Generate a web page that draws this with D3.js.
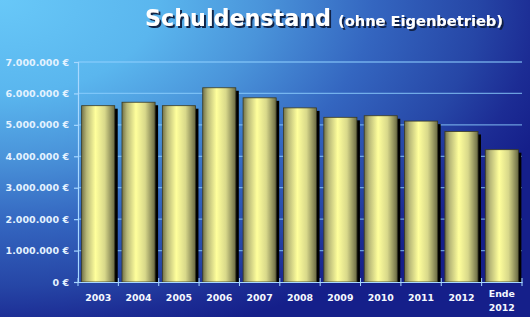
<!DOCTYPE html>
<html>
<head>
<meta charset="utf-8">
<script src="https://cdnjs.cloudflare.com/ajax/libs/d3/7.8.5/d3.min.js"></script>
<style>
  body { margin: 0; }
  svg { display: block; }
</style>
</head>
<body>
<div id="chart"></div>
<script>
// data
var years = ["2003", "2004", "2005", "2006", "2007", "2008", "2009", "2010", "2011", "2012", "Ende 2012"];
var debt = [5610000, 5720000, 5610000, 6180000, 5860000, 5540000, 5240000, 5290000, 5120000, 4790000, 4210000];
var yTicks = [0, 1000000, 2000000, 3000000, 4000000, 5000000, 6000000, 7000000];

var width = 530, height = 317;
var margin = {left: 78, right: 8, top: 62, bottom: 35};

var svg = d3.select("#chart").append("svg")
  .attr("width", width)
  .attr("height", height);

var defs = svg.append("defs");

// background: light blue in the top left corner fading to navy
var bg = defs.append("radialGradient").attr("id", "bg")
  .attr("cx", "0").attr("cy", "0").attr("fx", "0").attr("fy", "0").attr("r", "1.1");
bg.append("stop").attr("offset", "0").attr("stop-color", "#68c8f8");
bg.append("stop").attr("offset", "0.27").attr("stop-color", "#5ab6ee");
bg.append("stop").attr("offset", "0.45").attr("stop-color", "#4a94da");
bg.append("stop").attr("offset", "0.64").attr("stop-color", "#3466c0");
bg.append("stop").attr("offset", "0.82").attr("stop-color", "#2646a6");
bg.append("stop").attr("offset", "0.92").attr("stop-color", "#1c2c94");
bg.append("stop").attr("offset", "1").attr("stop-color", "#151f8a");

// cylinder shading for the bars
var bar = defs.append("linearGradient").attr("id", "bar")
  .attr("x1", "0").attr("y1", "0").attr("x2", "1").attr("y2", "0");
bar.append("stop").attr("offset", "0").attr("stop-color", "#72724a");
bar.append("stop").attr("offset", "0.15").attr("stop-color", "#b8b878");
bar.append("stop").attr("offset", "0.42").attr("stop-color", "#ffff9c");
bar.append("stop").attr("offset", "0.7").attr("stop-color", "#d8d88a");
bar.append("stop").attr("offset", "1").attr("stop-color", "#6a6a44");

// drop shadow for the title
defs.append("filter").attr("id", "shadow")
  .append("feDropShadow")
  .attr("dx", 2).attr("dy", 2).attr("stdDeviation", 0.4)
  .attr("flood-color", "#0a1a40").attr("flood-opacity", 0.95);

svg.append("rect")
  .attr("width", width).attr("height", height)
  .attr("fill", "url(#bg)");

var x = d3.scaleBand()
  .domain(years)
  .range([margin.left, width - margin.right])
  .paddingInner(0.18)
  .paddingOuter(0.09);

var y = d3.scaleLinear()
  .domain([0, 7000000])
  .range([height - margin.bottom, margin.top]);

// gridlines
svg.append("g")
  .selectAll("line")
  .data(yTicks.slice(1))
  .join("line")
  .attr("x1", margin.left)
  .attr("x2", width - margin.right)
  .attr("y1", d => y(d))
  .attr("y2", d => y(d))
  .attr("stroke", "#8fd0ff")
  .attr("stroke-opacity", 0.7)
  .attr("stroke-width", 1.3);

// shadows
svg.append("g")
  .selectAll("rect")
  .data(debt)
  .join("rect")
  .attr("x", (d, i) => x(years[i]) + 3)
  .attr("y", d => y(d) + 3)
  .attr("width", x.bandwidth())
  .attr("height", d => y(0) - y(d) - 3)
  .attr("fill", "#000");

// bars
svg.append("g")
  .selectAll("rect")
  .data(debt)
  .join("rect")
  .attr("x", (d, i) => x(years[i]))
  .attr("y", d => y(d))
  .attr("width", x.bandwidth())
  .attr("height", d => y(0) - y(d))
  .attr("fill", "url(#bar)")
  .attr("stroke", "#3a3a22")
  .attr("stroke-width", 0.8);

// axes
var fmt = d => d3.format(",")(d).replace(/,/g, ".") + " €";

var yAxis = svg.append("g")
  .attr("transform", "translate(" + margin.left + ",0)")
  .call(d3.axisLeft(y).tickValues(yTicks).tickFormat(fmt).tickSize(4).tickPadding(5));

var xAxis = svg.append("g")
  .attr("transform", "translate(0," + y(0) + ")")
  .call(d3.axisBottom(x).tickSize(0).tickFormat(""));

// boundary ticks between categories
svg.append("g")
  .selectAll("line")
  .data(d3.range(years.length + 1))
  .join("line")
  .attr("x1", i => margin.left + i * (width - margin.right - margin.left) / years.length)
  .attr("x2", i => margin.left + i * (width - margin.right - margin.left) / years.length)
  .attr("y1", y(0) - 4)
  .attr("y2", y(0) + 4)
  .attr("stroke", "#a8d8ff");

svg.selectAll(".domain, .tick line")
  .attr("stroke", "#a8d8ff")
  .attr("stroke-width", 1.2);

yAxis.selectAll("text")
  .attr("fill", "#e4f2ff")
  .style("font-family", "'DejaVu Sans', Verdana, sans-serif")
  .style("font-weight", "bold")
  .style("font-size", "9.5px");

// category labels, two lines for "Ende 2012"
svg.append("g")
  .selectAll("text")
  .data(years)
  .join("text")
  .attr("x", d => x(d) + x.bandwidth() / 2)
  .attr("y", 301)
  .attr("text-anchor", "middle")
  .attr("fill", "#f4f8ff")
  .style("font-family", "'DejaVu Sans', Verdana, sans-serif")
  .style("font-weight", "bold")
  .style("font-size", "9.4px")
  .each(function(d) {
    var parts = d.split(" ");
    var t = d3.select(this);
    if (parts.length > 1) t.attr("y", 297);
    parts.forEach((p, i) => t.append("tspan")
      .attr("x", x(d) + x.bandwidth() / 2)
      .attr("dy", i ? 14 : 0)
      .text(p));
  });

// title
var title = [
  {text: "Schuldenstand", size: 23, x: 145, w: 186},
  {text: "(ohne Eigenbetrieb)", size: 13.4, x: 338, w: 165}
];
svg.append("g")
  .attr("filter", "url(#shadow)")
  .selectAll("text")
  .data(title)
  .join("text")
  .attr("x", d => d.x)
  .attr("y", 26)
  .attr("fill", "#ffffff")
  .attr("textLength", d => d.w)
  .attr("lengthAdjust", "spacingAndGlyphs")
  .style("font-family", "'DejaVu Sans', Verdana, sans-serif")
  .style("font-weight", "bold")
  .style("font-size", d => d.size + "px")
  .text(d => d.text);
</script>
</body>
</html>
